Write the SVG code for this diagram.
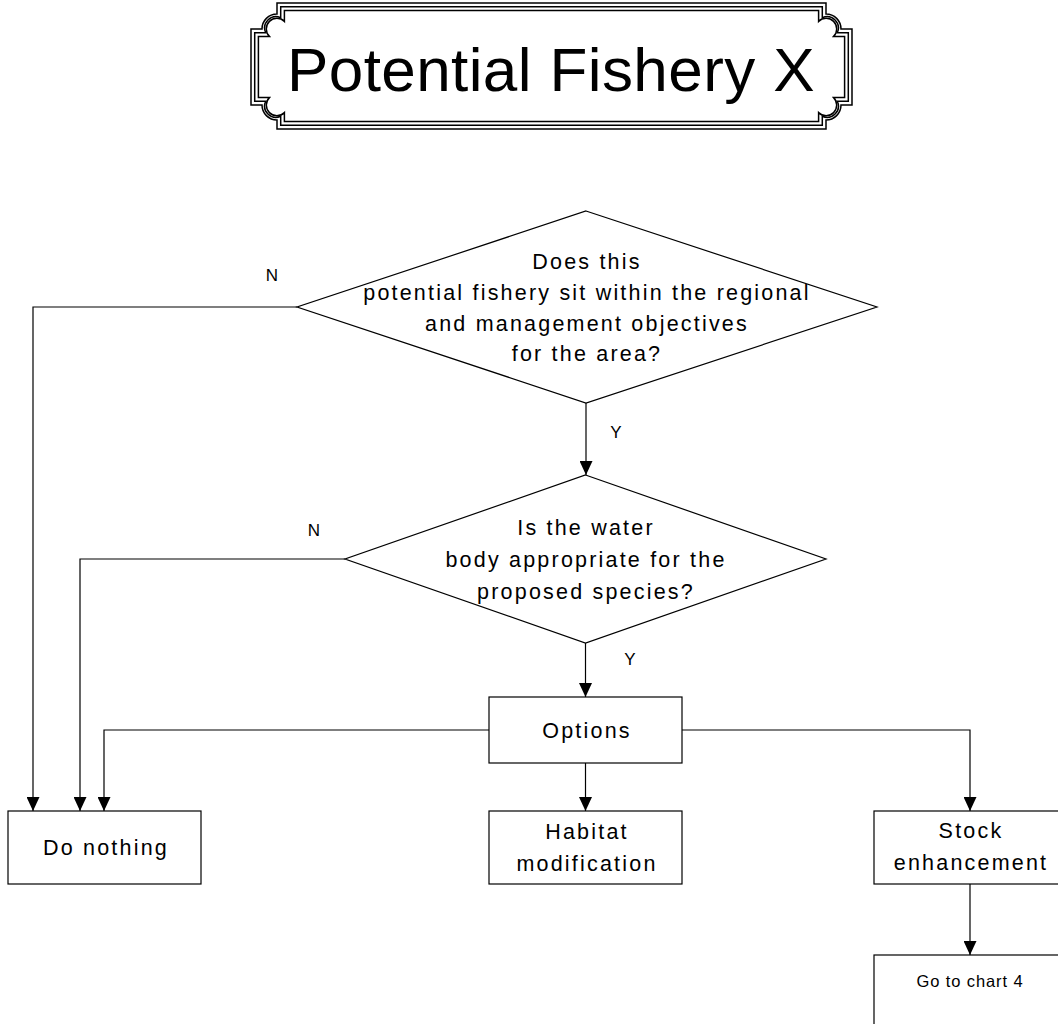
<svg xmlns="http://www.w3.org/2000/svg" width="1058" height="1024" viewBox="0 0 1058 1024">
<style>
.t{font-family:"Liberation Sans",Arial,sans-serif;font-size:21.5px;letter-spacing:2.2px;text-anchor:middle;fill:#000}
.s{font-family:"Liberation Sans",Arial,sans-serif;font-size:17px;text-anchor:middle;fill:#000}
.g{font-family:"Liberation Sans",Arial,sans-serif;font-size:16.5px;letter-spacing:0.9px;text-anchor:middle;fill:#000}
.title{font-family:"Liberation Sans",Arial,sans-serif;font-size:62px;letter-spacing:0.4px;text-anchor:middle;fill:#000}
.box{fill:#fff;stroke:#000;stroke-width:1.2}
.fr{fill:none;stroke:#000;stroke-width:1.5}
.c{fill:none;stroke:#000;stroke-width:1.2}
</style>
<defs>
<marker id="ah" markerUnits="userSpaceOnUse" markerWidth="14" markerHeight="13" viewBox="0 0 14 13" refX="14" refY="6.5" orient="auto">
<path d="M0,0 L14,6.5 L0,13 Z" fill="#000"/>
</marker>
</defs>
<rect width="1058" height="1024" fill="#fff"/>
<g id="title">
<path class="fr" d="M251,29 H262 A15,15 0 0 1 277,14 V3 H826 V14 A15,15 0 0 1 841,29 H852 V105 H841 A15,15 0 0 1 826,120 V129 H277 V120 A15,15 0 0 1 262,105 H251 Z"/>
<path class="fr" d="M254.7,32.7 H265.7 A11.3,11.3 0 0 1 280.7,17.7 V6.7 H822.3 V17.7 A11.3,11.3 0 0 1 837.3,32.7 H848.3 V101.3 H837.3 A11.3,11.3 0 0 1 822.3,116.3 V125.3 H280.7 V116.3 A11.3,11.3 0 0 1 265.7,101.3 H254.7 Z"/>
<path class="fr" d="M258.4,36.4 H269.4 A7.6,7.6 0 0 1 284.4,21.4 V10.4 H818.6 V21.4 A7.6,7.6 0 0 1 833.6,36.4 H844.6 V97.6 H833.6 A7.6,7.6 0 0 1 818.6,112.6 V121.6 H284.4 V112.6 A7.6,7.6 0 0 1 269.4,97.6 H258.4 Z"/>
<text class="title" x="551" y="91">Potential Fishery X</text>
</g>
<g id="connectors">
<polyline class="c" points="297,307 33,307 33,811" marker-end="url(#ah)"/>
<polyline class="c" points="345,559 80,559 80,811" marker-end="url(#ah)"/>
<polyline class="c" points="489,730 104,730 104,811" marker-end="url(#ah)"/>
<polyline class="c" points="586,403 586,475" marker-end="url(#ah)"/>
<polyline class="c" points="585.5,643 585.5,697" marker-end="url(#ah)"/>
<polyline class="c" points="585.5,763 585.5,811" marker-end="url(#ah)"/>
<polyline class="c" points="682,730 970,730 970,811" marker-end="url(#ah)"/>
<polyline class="c" points="970,884 970,955" marker-end="url(#ah)"/>
<text class="s" x="272" y="281">N</text>
<text class="s" x="314" y="536">N</text>
<text class="s" x="616" y="438">Y</text>
<text class="s" x="630" y="665">Y</text>
</g>
<g id="d1">
<polygon class="box" points="586,211 877,307 586,403 297,307"/>
<text class="t" x="587" y="269">Does this</text>
<text class="t" x="587" y="300">potential fishery sit within the regional</text>
<text class="t" x="587" y="331">and management objectives</text>
<text class="t" x="587" y="361">for the area?</text>
</g>
<g id="d2">
<polygon class="box" points="585.5,475 826,559 585.5,643 345,559"/>
<text class="t" x="586" y="535">Is the water</text>
<text class="t" x="586" y="567">body appropriate for the</text>
<text class="t" x="586" y="599">proposed species?</text>
</g>
<g id="options">
<rect class="box" x="489" y="697" width="193" height="66"/>
<text class="t" x="587" y="738">Options</text>
</g>
<g id="donothing">
<rect class="box" x="8" y="811" width="193" height="73"/>
<text class="t" x="106" y="855">Do nothing</text>
</g>
<g id="habitat">
<rect class="box" x="489" y="811" width="193" height="73"/>
<text class="t" x="587" y="839">Habitat</text>
<text class="t" x="587" y="871">modification</text>
</g>
<g id="stock">
<rect class="box" x="874" y="811" width="193" height="73"/>
<text class="t" x="971" y="838">Stock</text>
<text class="t" x="971" y="870">enhancement</text>
</g>
<g id="chart4">
<rect class="box" x="874" y="955" width="193" height="73"/>
<text class="g" x="970" y="987">Go to chart 4</text>
</g>
</svg>
